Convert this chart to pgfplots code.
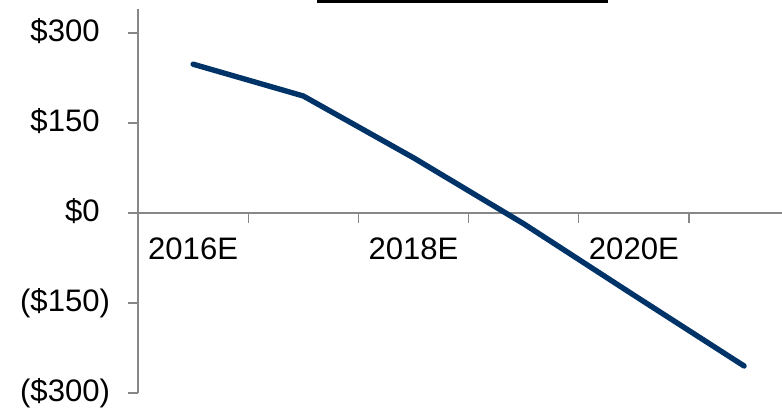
\documentclass[border=0pt]{standalone}
\usepackage{pgfplots}
\pgfplotsset{compat=1.18}
\usetikzlibrary{calc}
\usepackage{fontspec}
\setmainfont{Liberation Sans}
\definecolor{navy}{RGB}{0,52,104}
\definecolor{axgray}{RGB}{135,135,135}
\begin{document}
\begin{tikzpicture}
\begin{axis}[
  scale only axis,
  width=322bp, height=192bp,
  xmin=-0.5, xmax=5.344,
  ymin=-300, ymax=340,
  axis x line=middle,
  axis y line=left,
  axis line style={-, draw=axgray, line width=0.65bp},
  tick style={draw=axgray, line width=0.65bp},
  tick align=outside,
  major tick length=4.8bp,
  xtick={0.5,1.5,2.5,3.5,4.5},
  xticklabels={},
  extra x ticks={0,2,4},
  extra x tick labels={2016E,2018E,2020E},
  extra x tick style={major tick length=0pt,
    xticklabel style={anchor=north, inner sep=0pt, yshift=-12.3bp}},
  ytick={-300,-150,0,150,300},
  yticklabels={(\$300),(\$150),\$0\phantom{)},\$150\phantom{)},\$300\phantom{)}},
  yticklabel style={anchor=east, inner sep=0pt, xshift=-9bp},
  ticklabel style={font=\fontsize{15.6}{18}\selectfont, text=black},
  clip=false,
]
\addplot[navy, line width=2.7bp, line cap=round, line join=round]
  coordinates {(0,248) (1,195) (2,92) (3,-18) (4,-137) (5,-255)};
\coordinate (ll) at (rel axis cs:0,0);
\coordinate (ur) at (rel axis cs:1,1);
\fill[black] (axis cs:1.124,350.8) rectangle (axis cs:3.765,356);
\end{axis}
\pgfresetboundingbox
\path[use as bounding box] ($(ll)+(-69bp,-7.5bp)$) rectangle ($(ur)+(0,4.5bp)$);
\end{tikzpicture}
\end{document}
